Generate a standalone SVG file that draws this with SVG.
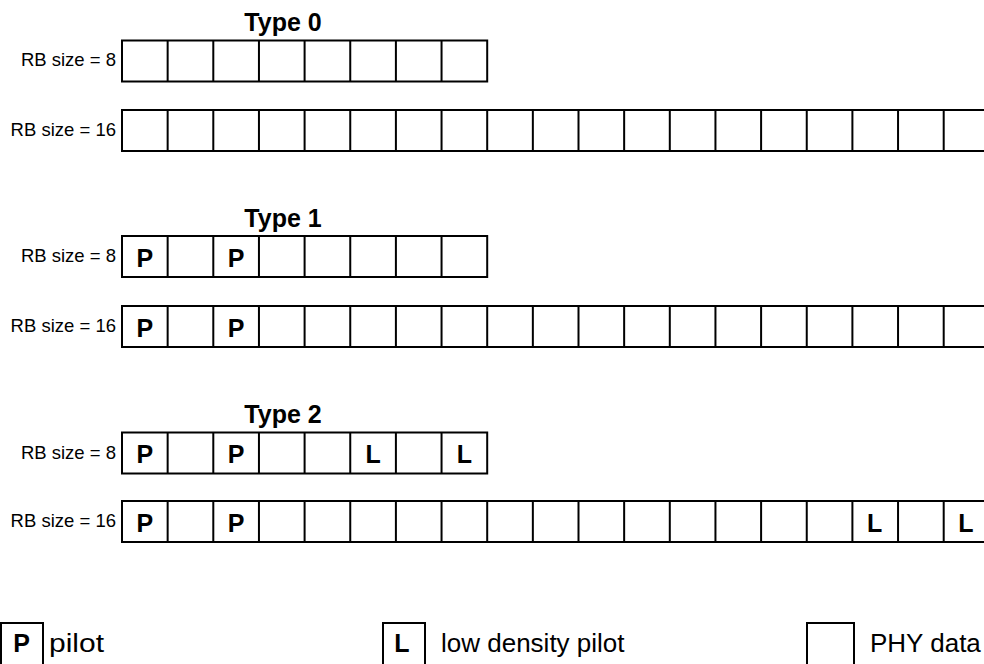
<svg xmlns="http://www.w3.org/2000/svg" width="984" height="664" viewBox="0 0 984 664">
<style>
  .bg{fill:#ffffff}
  .box{fill:#ffffff;stroke:#000000;stroke-width:2}
  .div{fill:none;stroke:#000000;stroke-width:2}
  .title{font-family:"Liberation Sans",Arial,sans-serif;font-weight:bold;font-size:25px;fill:#000;text-anchor:middle}
  .lbl{font-family:"Liberation Sans",Arial,sans-serif;font-size:18.5px;fill:#000;text-anchor:end}
  .cell{font-family:"Liberation Sans",Arial,sans-serif;font-weight:bold;font-size:25px;fill:#000;text-anchor:middle}
  .leg{font-family:"Liberation Sans",Arial,sans-serif;font-size:26px;fill:#000}
</style>
<defs>
  <path id="div8" d="M167.65 0V41M213.3 0V41M258.95 0V41M304.6 0V41M350.25 0V41M395.9 0V41M441.55 0V41"/>
  <path id="div16" d="M167.65 0V41M213.3 0V41M258.95 0V41M304.6 0V41M350.25 0V41M395.9 0V41M441.55 0V41M487.2 0V41M532.85 0V41M578.5 0V41M624.15 0V41M669.8 0V41M715.45 0V41M761.1 0V41M806.75 0V41M852.4 0V41M898.05 0V41M943.7 0V41M989.35 0V41"/>
</defs>
<rect class="bg" x="0" y="0" width="984" height="664"/>

<g id="type0">
  <text class="title" x="283" y="31">Type 0</text>
  <g id="type0-rb8">
    <text class="lbl" x="116" y="66">RB size = 8</text>
    <rect class="box" x="122" y="40.5" width="365.2" height="41"/>
    <use href="#div8" class="div" transform="translate(0,40.5)"/>
  </g>
  <g id="type0-rb16">
    <text class="lbl" x="116" y="136">RB size = 16</text>
    <rect class="box" x="122" y="110" width="1000" height="41"/>
    <use href="#div16" class="div" transform="translate(0,110)"/>
  </g>
</g>

<g id="type1">
  <text class="title" x="283" y="227">Type 1</text>
  <g id="type1-rb8">
    <text class="lbl" x="116" y="262">RB size = 8</text>
    <rect class="box" x="122" y="236" width="365.2" height="41"/>
    <use href="#div8" class="div" transform="translate(0,236)"/>
    <text class="cell" x="144.8" y="266.5">P</text>
    <text class="cell" x="236.1" y="266.5">P</text>
  </g>
  <g id="type1-rb16">
    <text class="lbl" x="116" y="332">RB size = 16</text>
    <rect class="box" x="122" y="306" width="1000" height="41"/>
    <use href="#div16" class="div" transform="translate(0,306)"/>
    <text class="cell" x="144.8" y="336.5">P</text>
    <text class="cell" x="236.1" y="336.5">P</text>
  </g>
</g>

<g id="type2">
  <text class="title" x="283" y="423">Type 2</text>
  <g id="type2-rb8">
    <text class="lbl" x="116" y="459">RB size = 8</text>
    <rect class="box" x="122" y="432.5" width="365.2" height="41"/>
    <use href="#div8" class="div" transform="translate(0,432.5)"/>
    <text class="cell" x="144.8" y="463">P</text>
    <text class="cell" x="236.1" y="463">P</text>
    <text class="cell" x="373.1" y="463">L</text>
    <text class="cell" x="464.4" y="463">L</text>
  </g>
  <g id="type2-rb16">
    <text class="lbl" x="116" y="527">RB size = 16</text>
    <rect class="box" x="122" y="501" width="1000" height="41"/>
    <use href="#div16" class="div" transform="translate(0,501)"/>
    <text class="cell" x="144.8" y="531.5">P</text>
    <text class="cell" x="236.1" y="531.5">P</text>
    <text class="cell" x="874.7" y="531.5">L</text>
    <text class="cell" x="966" y="531.5">L</text>
  </g>
</g>

<g id="legend-pilot">
  <rect class="box" x="1" y="623" width="42" height="60"/>
  <text class="cell" x="21.5" y="652">P</text>
  <text class="leg" x="49" y="652" textLength="55" lengthAdjust="spacingAndGlyphs">pilot</text>
</g>
<g id="legend-low-density">
  <rect class="box" x="383" y="623" width="42" height="60"/>
  <text class="cell" x="402" y="652">L</text>
  <text class="leg" x="441" y="652">low density pilot</text>
</g>
<g id="legend-phy">
  <rect class="box" x="807" y="623" width="47" height="60"/>
  <text class="leg" x="870" y="652">PHY data</text>
</g>
</svg>
